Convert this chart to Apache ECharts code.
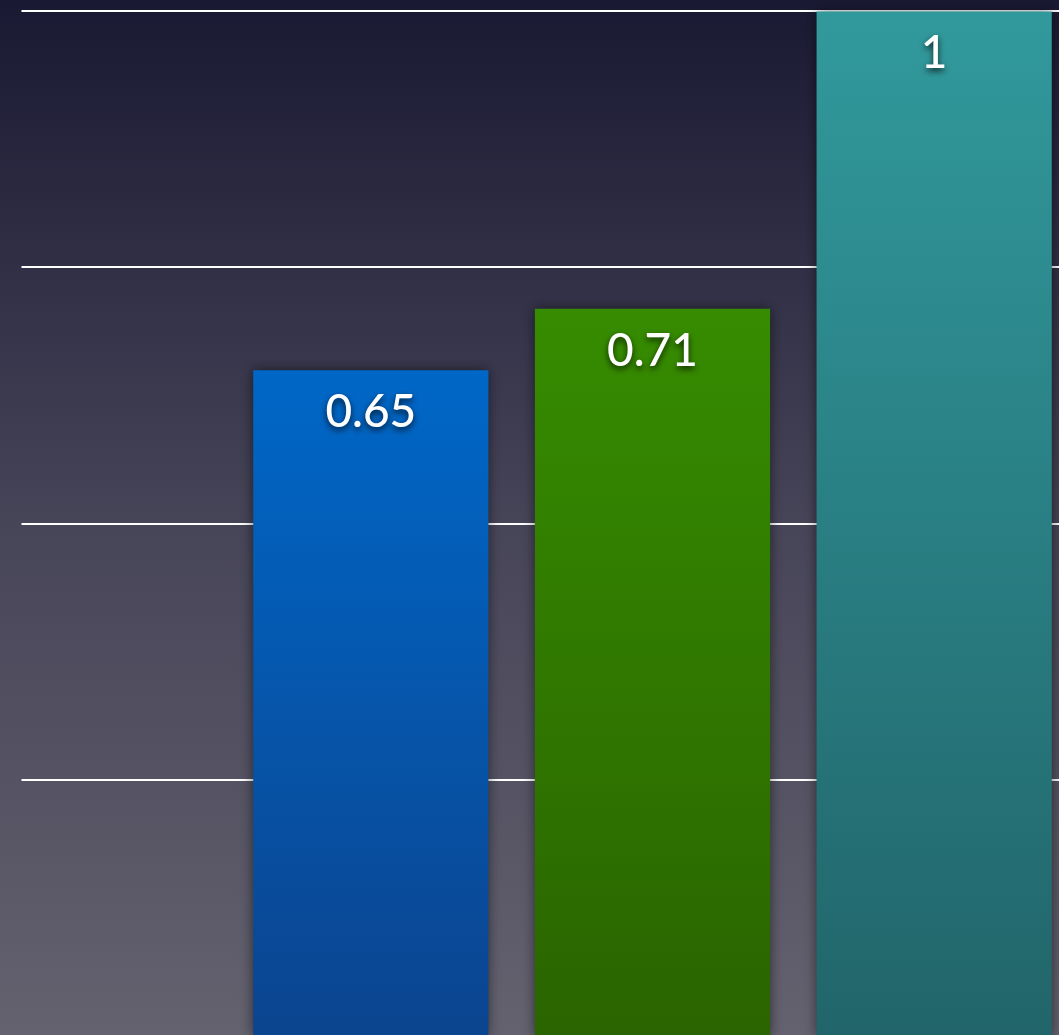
<!DOCTYPE html>
<html>
<head>
<meta charset="utf-8">
<script src="https://cdn.jsdelivr.net/npm/echarts@6/dist/echarts.min.js"></script>
<style>
html,body{margin:0;padding:0;width:1059px;height:1035px;overflow:hidden;}
#c{width:1059px;height:1035px;}
</style>
</head>
<body>
<div id="c"></div>
<script>
const categories = ['Bar 1', 'Bar 2', 'Bar 3'];
const values = [0.65, 0.71, 1];
const tickValues = [0, 0.25, 0.5, 0.75, 1];

const barGradients = [
  ['#0067c7', '#0b448f'],
  ['#368c00', '#2a6400'],
  ['#31999c', '#21656a']
];

function grad(c) {
  return new echarts.graphic.LinearGradient(0, 0, 0, 1, [
    {offset: 0, color: c[0]}, {offset: 1, color: c[1]}
  ]);
}

const chart = echarts.init(document.getElementById('c'), null, {renderer: 'canvas'});
const yMin = tickValues[0], yMax = tickValues[tickValues.length - 1];
const yInt = tickValues[1] - tickValues[0];

chart.setOption({
  animation: false,
  backgroundColor: new echarts.graphic.LinearGradient(0, 0, 0, 1, [
    {offset: 0, color: '#1a1933'},
    {offset: 0.5, color: '#464457'},
    {offset: 1, color: '#64626f'}
  ]),
  grid: [
    {left: 21.5, width: 1040, top: 10.5, height: 1026, outerBoundsMode: 'none', containLabel: false},
    {left: 230, width: 845, top: 11.5, height: 1025, outerBoundsMode: 'none', containLabel: false}
  ],
  xAxis: [
    {gridIndex: 0, type: 'category', data: categories, show: false},
    {gridIndex: 1, type: 'category', data: categories, show: false}
  ],
  yAxis: [
    {gridIndex: 0, type: 'value', min: yMin, max: yMax, interval: yInt,
     axisLine: {show: false}, axisTick: {show: false}, axisLabel: {show: false},
     splitLine: {show: true, lineStyle: {color: '#ffffff', width: 2}}},
    {gridIndex: 1, type: 'value', min: yMin, max: yMax, interval: yInt, show: false,
     splitLine: {show: false}}
  ],
  series: [{
    type: 'bar',
    xAxisIndex: 1,
    yAxisIndex: 1,
    barCategoryGap: '16.5%',
    z: 5,
    data: values.map((v, i) => ({
      value: v,
      itemStyle: {
        color: grad(barGradients[i]),
        shadowColor: 'rgba(0,0,0,0.55)',
        shadowBlur: 12,
        shadowOffsetX: 0,
        shadowOffsetY: 0
      }
    })),
    label: {
      show: true,
      position: 'insideTop',
      distance: 19,
      color: '#ffffff',
      fontFamily: 'Lato',
      fontWeight: 500,
      fontSize: 46,
      textShadowColor: 'rgba(0,0,0,0.75)',
      textShadowBlur: 6,
      textShadowOffsetY: 3,
      formatter: p => String(p.value)
    }
  }]
});
</script>
</body>
</html>
